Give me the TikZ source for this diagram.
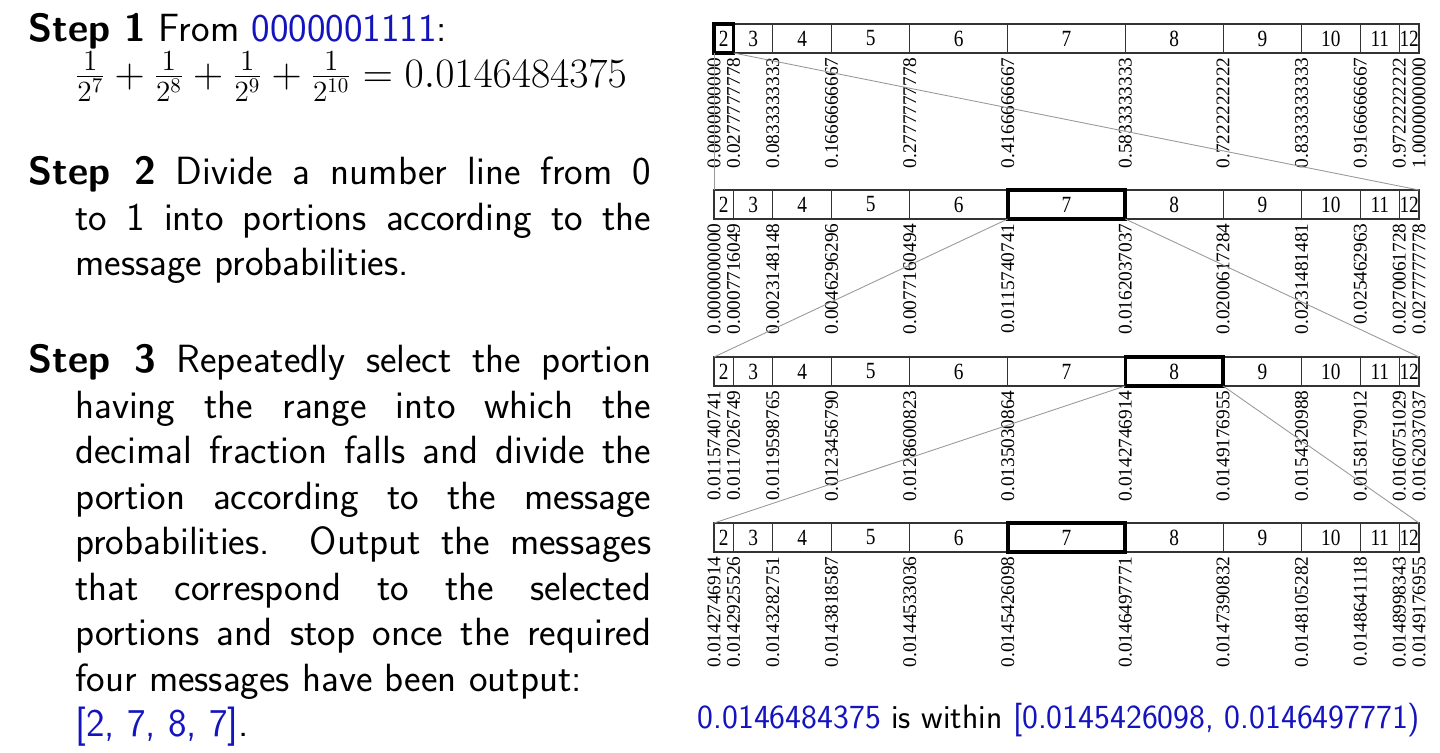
\RequirePackage{fix-cm}
\documentclass[tikz,border=0pt]{standalone}
\usepackage{fontspec}
\usepackage{amsmath, amssymb}
\usepackage{graphicx}
\usepackage{xcolor}
\usepackage{tikz}
\usetikzlibrary{calc}
\newfontfamily\timesfont{Liberation Serif}
\definecolor{hiblue}{RGB}{20,20,190}
\tolerance=9999
\hyphenpenalty=10000

\begin{document}
\begin{tikzpicture}[x=0.02cm, y=-0.02cm,
    seg/.style={draw=black!80, line width=0.6pt, inner sep=0pt, outer sep=0pt,
        minimum height=0.58cm, font=\timesfont\fontsize{11}{11}\selectfont},
    pick/.style={draw=black, line width=2pt},
    lab/.style={rotate=90, anchor=east, inner sep=0pt, font=\timesfont\fontsize{11}{11}\selectfont},
    zoomline/.style={draw=black!40, line width=0.5pt},
    steptext/.style={anchor=north west, inner sep=0pt,
        font=\sffamily\fontsize{22.4}{25.9}\selectfont}]
    \useasboundingbox (0,0) rectangle (1440,753);

    % 1. Steps on the left
    \node[steptext] (step1) at (28,13) {\parbox[t]{12.46cm}{\hangindent=0.94cm\hangafter=1
        \textbf{Step 1} From \textcolor{hiblue}{0000001111}:\newline
        {\fontsize{23.8}{25.9}\selectfont$\frac{1}{2^7}+\frac{1}{2^8}+\frac{1}{2^9}+\frac{1}{2^{10}}=0.0146484375$}}};
    \node[steptext] (step2) at (28,156) {\parbox[t]{12.46cm}{\hangindent=0.94cm\hangafter=1
        \textbf{Step 2} Divide a number line from 0\linebreak to 1 into portions according to the\linebreak
        message probabilities.}};
    \node[steptext] (step3) at (28,344) {\parbox[t]{12.46cm}{\hangindent=0.94cm\hangafter=1
        \textbf{Step 3} Repeatedly select the portion\linebreak having the range into which the\linebreak
        decimal fraction falls and divide the\linebreak portion according to the message\linebreak
        probabilities. Output the messages\linebreak that correspond to the selected\linebreak
        portions and stop once the required\linebreak four messages have been output:\newline
        \textcolor{hiblue}{[2, 7, 8, 7]}.}};

    % 2. The four number lines (sum of two dice: 2..12)
    \foreach \r/\top/\pk in {1/24/2, 2/190/7, 3/357/8, 4/523/7} {
        \foreach \n/\a/\p in {2/0/1, 3/1/2, 4/3/3, 5/6/4, 6/10/5, 7/15/6,
                8/21/5, 9/26/4, 10/30/3, 11/33/2, 12/35/1}
            \node[seg, minimum width={\p*0.39167cm}] (s\r-\n)
                at ({714+19.5833*(\a+\p/2)}, \top+14.5) {\scalebox{1}[1.2]{\n}};
        \draw[pick] (s\r-\pk.south west) rectangle (s\r-\pk.north east);
    }

    % 3. Boundary values
    \foreach \a/\v [count=\i] in {0/0.0000000000, 1/0.0277777778, 3/0.0833333333,
            6/0.1666666667, 10/0.2777777778, 15/0.4166666667, 21/0.5833333333,
            26/0.7222222222, 30/0.8333333333, 33/0.9166666667, 35/0.9722222222, 36/1.0000000000}
        \node[lab] (v1-\i) at ({714+19.5833*\a}, 57) {\v};
    \foreach \a/\v [count=\i] in {0/0.0000000000, 1/0.0007716049, 3/0.0023148148,
            6/0.0046296296, 10/0.0077160494, 15/0.0115740741, 21/0.0162037037,
            26/0.0200617284, 30/0.0231481481, 33/0.025462963, 35/0.0270061728, 36/0.0277777778}
        \node[lab] (v2-\i) at ({714+19.5833*\a}, 223) {\v};
    \foreach \a/\v [count=\i] in {0/0.0115740741, 1/0.0117026749, 3/0.0119598765,
            6/0.0123456790, 10/0.0128600823, 15/0.0135030864, 21/0.0142746914,
            26/0.0149176955, 30/0.0154320988, 33/0.0158179012, 35/0.0160751029, 36/0.0162037037}
        \node[lab] (v3-\i) at ({714+19.5833*\a}, 390) {\v};
    \foreach \a/\v [count=\i] in {0/0.0142746914, 1/0.0142925526, 3/0.0143282751,
            6/0.0143818587, 10/0.0144533036, 15/0.0145426098, 21/0.0146497771,
            26/0.0147390832, 30/0.0148105282, 33/0.0148641118, 35/0.0148998343, 36/0.0149176955}
        \node[lab] (v4-\i) at ({714+19.5833*\a}, 556) {\v};

    % 4. Zoom lines from the chosen portion to the next line
    \draw[zoomline] (s1-2.south west) -- (s2-2.north west);
    \draw[zoomline] (s1-2.south east) -- (s2-12.north east);
    \draw[zoomline] (s2-7.south west) -- (s3-2.north west);
    \draw[zoomline] (s2-7.south east) -- (s3-12.north east);
    \draw[zoomline] (s3-8.south west) -- (s4-2.north west);
    \draw[zoomline] (s3-8.south east) -- (s4-12.north east);

    % 5. Result
    \node[anchor=base, inner sep=0pt, font=\sffamily\fontsize{19.2}{22}\selectfont] (result)
        at (1059,728) {\textcolor{hiblue}{0.0146484375} is within
        \textcolor{hiblue}{[0.0145426098, 0.0146497771)}};
\end{tikzpicture}
\end{document}
